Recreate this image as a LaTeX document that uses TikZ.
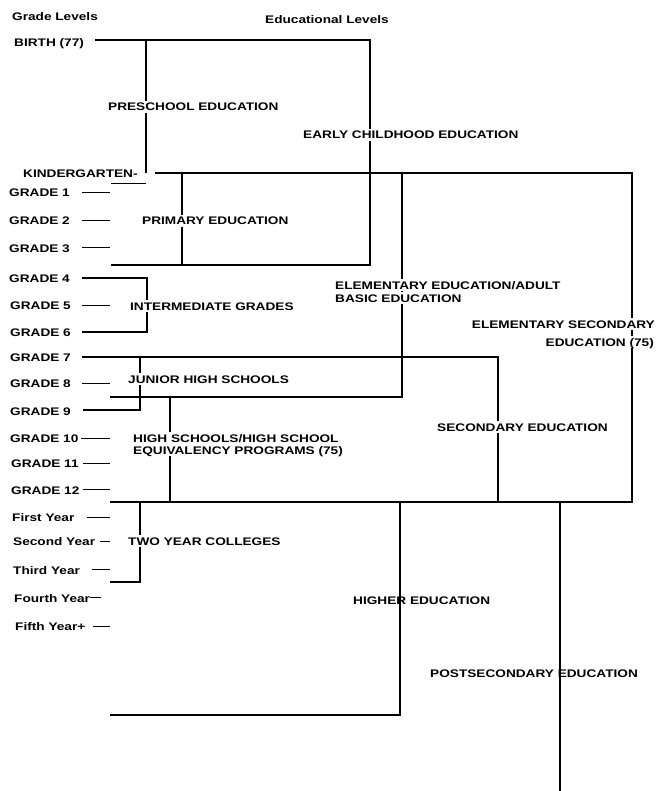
\documentclass[tikz,border=0pt]{standalone}
\usepackage{fontspec}
\newfontfamily\labfont[FakeStretch=1.24]{Liberation Sans}
\begin{document}
\begin{tikzpicture}[x=1pt,y=-1pt,
  lab/.style={font=\labfont\bfseries\fontsize{11}{13}\selectfont, inner sep=0pt, anchor=west, text height=8pt, text depth=0pt},
  labr/.style={lab, anchor=east},
  gap/.style={lab, fill=white, inner xsep=2pt, inner ysep=2pt},
  gapr/.style={gap, anchor=east},
  ln/.style={line width=1.1pt, line cap=butt, line join=miter},
  tick/.style={line width=1pt}]
\useasboundingbox (0,0) rectangle (657,791);

% coordinates of bracket corners
\coordinate (b0) at (95,40);   \coordinate (b1) at (370,40);
\coordinate (b2) at (370,265); \coordinate (b3) at (111,265);
\coordinate (p0) at (146,40);  \coordinate (p1) at (146,173);
\coordinate (k0) at (155,173); \coordinate (k1) at (632,173);
\coordinate (k2) at (632,502); \coordinate (k3) at (110,502);
\coordinate (pr0) at (182,173); \coordinate (pr1) at (182,265);
\coordinate (e0) at (402,173); \coordinate (e1) at (402,397); \coordinate (e2) at (110,397);
\coordinate (i0) at (82,278); \coordinate (i1) at (147,278); \coordinate (i2) at (147,332); \coordinate (i3) at (82,332);
\coordinate (s0) at (82,357); \coordinate (s1) at (498,357); \coordinate (s2) at (498,502);
\coordinate (j0) at (140,357); \coordinate (j1) at (140,410); \coordinate (j2) at (83,410);
\coordinate (h0) at (170,397); \coordinate (h1) at (170,502);
\coordinate (t0) at (140,502); \coordinate (t1) at (140,582); \coordinate (t2) at (110,582);
\coordinate (he0) at (400,502); \coordinate (he1) at (400,715); \coordinate (he2) at (110,715);
\coordinate (ps0) at (560,502); \coordinate (ps1) at (560,791);

% brackets
\draw[ln] (b0) -- (b1) -- (b2) -- (b3);
\draw[ln] (p0) -- (p1);
\draw[ln] (k0) -- (k1) -- (k2) -- (k3);
\draw[ln] (pr0) -- (pr1);
\draw[ln] (e0) -- (e1) -- (e2);
\draw[ln] (i0) -- (i1) -- (i2) -- (i3);
\draw[ln] (s0) -- (s1) -- (s2);
\draw[ln] (j0) -- (j1) -- (j2);
\draw[ln] (h0) -- (h1);
\draw[ln] (t0) -- (t1) -- (t2);
\draw[ln] (he0) -- (he1) -- (he2);
\draw[ln] (ps0) -- (ps1);

% grade ticks
\draw[tick] (111,184) -- (146,184);
\draw[tick] (82,193) -- (110,193);
\draw[tick] (82,221) -- (110,221);
\draw[tick] (82,248) -- (110,248);
\draw[tick] (82,305) -- (110,305);
\draw[tick] (82,383) -- (110,383);
\draw[tick] (81,438) -- (110,438);
\draw[tick] (83,463) -- (110,463);
\draw[tick] (83,489) -- (110,489);
\draw[tick] (87,517) -- (110,517);
\draw[tick] (100,541) -- (110,541);
\draw[tick] (92,569) -- (110,569);
\draw[tick] (90,597) -- (101,597);
\draw[tick] (93,626) -- (110,626);

% headings
\node[lab] (hg) at (12,17) {Grade Levels};
\node[lab] (he) at (265,20) {Educational Levels};

% grade level labels
\node[lab] (g0) at (14,43) {BIRTH (77)};
\node[lab] (gk) at (23,174) {KINDERGARTEN-};
\node[lab] (g1) at (9,193) {GRADE 1};
\node[lab] (g2) at (9,221) {GRADE 2};
\node[lab] (g3) at (9,248) {GRADE 3};
\node[lab] (g4) at (9,278) {GRADE 4};
\node[lab] (g5) at (10,305) {GRADE 5};
\node[lab] (g6) at (10,332) {GRADE 6};
\node[lab] (g7) at (10,357) {GRADE 7};
\node[lab] (g8) at (10,383) {GRADE 8};
\node[lab] (g9) at (10,411) {GRADE 9};
\node[lab] (g10) at (10,438) {GRADE 10};
\node[lab] (g11) at (11,463) {GRADE 11};
\node[lab] (g12) at (11,490) {GRADE 12};
\node[lab] (y1) at (12,517) {First Year};
\node[lab] (y2) at (13,541) {Second Year};
\node[lab] (y3) at (13,570) {Third Year};
\node[lab] (y4) at (14,598) {Fourth Year};
\node[lab] (y5) at (15,626) {Fifth Year+};

% educational level labels
\node[gap] (pre) at (106,107) {PRESCHOOL EDUCATION};
\node[gap] (ece) at (301,135) {EARLY CHILDHOOD EDUCATION};
\node[gap] (pri) at (140,221) {PRIMARY EDUCATION};
\node[gap] (ele1) at (333,285) {ELEMENTARY EDUCATION/ADULT};
\node[gap] (ele2) at (333,298) {BASIC EDUCATION};
\node[gap] (int) at (128,306) {INTERMEDIATE GRADES};
\node[gapr] (es1) at (657,324) {ELEMENTARY SECONDARY};
\node[gapr] (es2) at (656,342) {EDUCATION (75)};
\node[gap] (jh) at (126,379) {JUNIOR HIGH SCHOOLS};
\node[gap] (sec) at (435,427) {SECONDARY EDUCATION};
\node[gap] (hs1) at (131,438) {HIGH SCHOOLS/HIGH SCHOOL};
\node[gap] (hs2) at (131,450) {EQUIVALENCY PROGRAMS (75)};
\node[gap] (two) at (126,541) {TWO YEAR COLLEGES};
\node[lab] (hig) at (353,600) {HIGHER EDUCATION};
\node[lab] (pos) at (430,673) {POSTSECONDARY EDUCATION};
\end{tikzpicture}
\end{document}
